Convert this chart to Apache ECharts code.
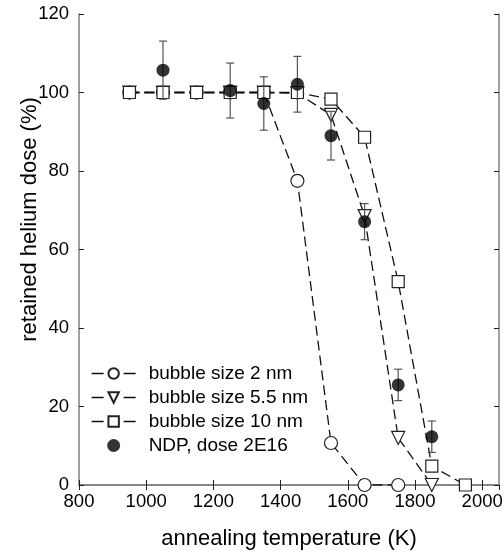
<!DOCTYPE html>
<html>
<head>
<meta charset="utf-8">
<script src="https://cdn.jsdelivr.net/npm/echarts@6/dist/echarts.min.js"></script>
<style>html,body{margin:0;padding:0;background:#fff}#c{width:504px;height:553px}</style>
</head>
<body>
<div id="c"></div>
<script>
var temps = [950, 1050, 1150, 1250, 1350, 1450, 1550, 1650, 1750, 1850, 1950];
var bubble2 = [100, 100, 100, 100, 100, 77.5, 10.7, 0, 0, null, null];
var bubble55 = [100, 100, 100, 100, 100, 99.8, 94.3, 68.5, 12, 0, null];
var bubble10 = [100, 100, 100, 100, 100, 100, 98.3, 88.6, 51.8, 4.8, 0];
var ndpTemps = [1050, 1250, 1350, 1450, 1550, 1650, 1750, 1850];
var ndpValues = [105.7, 100.5, 97.2, 102.1, 89.0, 67.1, 25.5, 12.3];
var ndpErrors = [7.4, 7.0, 6.8, 7.1, 6.2, 4.6, 4.0, 4.0];
var seriesNames = ['bubble size 2 nm', 'bubble size 5.5 nm', 'bubble size 10 nm', 'NDP, dose 2E16'];
var xTicks = [800, 1000, 1200, 1400, 1600, 1800, 2000];
var yTicks = [0, 20, 40, 60, 80, 100, 120];

function pairs(xs, ys) {
  var out = [];
  for (var i = 0; i < xs.length; i++) if (ys[i] !== null) out.push([xs[i], ys[i]]);
  return out;
}
var errData = ndpTemps.map(function (t, i) { return [t, ndpValues[i] - ndpErrors[i], ndpValues[i] + ndpErrors[i]]; });

var font = 'Liberation Sans, Arial, sans-serif';
var axisGray = '#808080';
var chart = echarts.init(document.getElementById('c'), null, { renderer: 'canvas' });

var lineCommon = {
  type: 'line',
  xAxisIndex: 0, yAxisIndex: 0,
  symbolSize: 12,
  lineStyle: { color: '#111', width: 1.3, type: [10, 5] },
  itemStyle: { color: '#fff', borderColor: '#222', borderWidth: 1.2 },
  emphasis: { disabled: true },
  animation: false,
  z: 3
};

chart.setOption({
  animation: false,
  grid: { left: 79, right: 5, top: 14, bottom: 68, containLabel: false, outerBoundsMode: 'none' },
  legend: {
    orient: 'vertical',
    left: 91,
    top: 364,
    padding: 0,
    itemWidth: 44,
    itemHeight: 13,
    itemGap: 5,
    data: seriesNames,
    lineStyle: { type: [12, 20], width: 1.3, color: '#111' },
    textStyle: { fontFamily: font, fontSize: 19, color: '#000', padding: [0, 0, 0, 8] },
    selectedMode: false
  },
  xAxis: [{
    type: 'value', min: 800, max: 2050, interval: 200,
    name: 'annealing temperature (K)', nameLocation: 'middle', nameGap: 43, nameMoveOverlap: false,
    nameTextStyle: { fontFamily: font, fontSize: 22, color: '#000' },
    axisLine: { show: true, lineStyle: { color: axisGray, width: 1.5 } },
    axisTick: { show: true, inside: true, length: 5, lineStyle: { color: '#222', width: 1 } },
    axisLabel: { fontFamily: font, fontSize: 18.5, color: '#000', margin: 7, showMaxLabel: false,
      formatter: function (v) { return xTicks.indexOf(v) >= 0 ? String(v) : ''; } },
    splitLine: { show: false }
  }, {
    type: 'value', position: 'top', min: 800, max: 2050, interval: 200,
    axisLine: { show: true, lineStyle: { color: axisGray, width: 1.5 } },
    axisTick: { show: true, inside: true, length: 5, lineStyle: { color: '#222', width: 1 } },
    axisLabel: { show: false }, splitLine: { show: false }
  }],
  yAxis: [{
    type: 'value', min: 0, max: 120, interval: 20,
    name: 'retained helium dose (%)', nameLocation: 'middle', nameGap: 38, nameMoveOverlap: false,
    nameTextStyle: { fontFamily: font, fontSize: 22, color: '#000', padding: [0, 0, 0, 60] },
    axisLine: { show: true, lineStyle: { color: axisGray, width: 1.5 } },
    axisTick: { show: true, inside: true, length: 5, lineStyle: { color: '#222', width: 1 } },
    axisLabel: { fontFamily: font, fontSize: 18.5, color: '#000', margin: 10,
      formatter: function (v) { return yTicks.indexOf(v) >= 0 ? String(v) : ''; } },
    splitLine: { show: false }
  }, {
    type: 'value', position: 'right', min: 0, max: 120, interval: 20,
    axisLine: { show: true, lineStyle: { color: axisGray, width: 1.5 } },
    axisTick: { show: true, inside: true, length: 5, lineStyle: { color: '#222', width: 1 } },
    axisLabel: { show: false }, splitLine: { show: false }
  }],
  series: [
    Object.assign({}, lineCommon, { name: seriesNames[0], symbol: 'circle', symbolSize: 13, data: pairs(temps, bubble2) }),
    Object.assign({}, lineCommon, { name: seriesNames[1], symbol: 'triangle', symbolRotate: 180, symbolSize: 13, data: pairs(temps, bubble55) }),
    Object.assign({}, lineCommon, { name: seriesNames[2], symbol: 'rect', symbolSize: 12, data: pairs(temps, bubble10) }),
    {
      type: 'custom', name: 'err', xAxisIndex: 0, yAxisIndex: 0, z: 4,
      data: errData, silent: true, animation: false,
      renderItem: function (params, api) {
        var x = api.value(0);
        var lo = api.coord([x, api.value(1)]);
        var hi = api.coord([x, api.value(2)]);
        var w = 4;
        var st = { stroke: '#555', lineWidth: 1.2 };
        return { type: 'group', children: [
          { type: 'line', shape: { x1: lo[0], y1: lo[1], x2: hi[0], y2: hi[1] }, style: st },
          { type: 'line', shape: { x1: lo[0] - w, y1: lo[1], x2: lo[0] + w, y2: lo[1] }, style: st },
          { type: 'line', shape: { x1: hi[0] - w, y1: hi[1], x2: hi[0] + w, y2: hi[1] }, style: st }
        ] };
      }
    },
    {
      type: 'scatter', name: seriesNames[3], xAxisIndex: 0, yAxisIndex: 0, z: 5,
      symbol: 'circle', symbolSize: 13,
      itemStyle: { color: '#000' },
      data: pairs(ndpTemps, ndpValues)
    }
  ]
});
</script>
</body>
</html>
